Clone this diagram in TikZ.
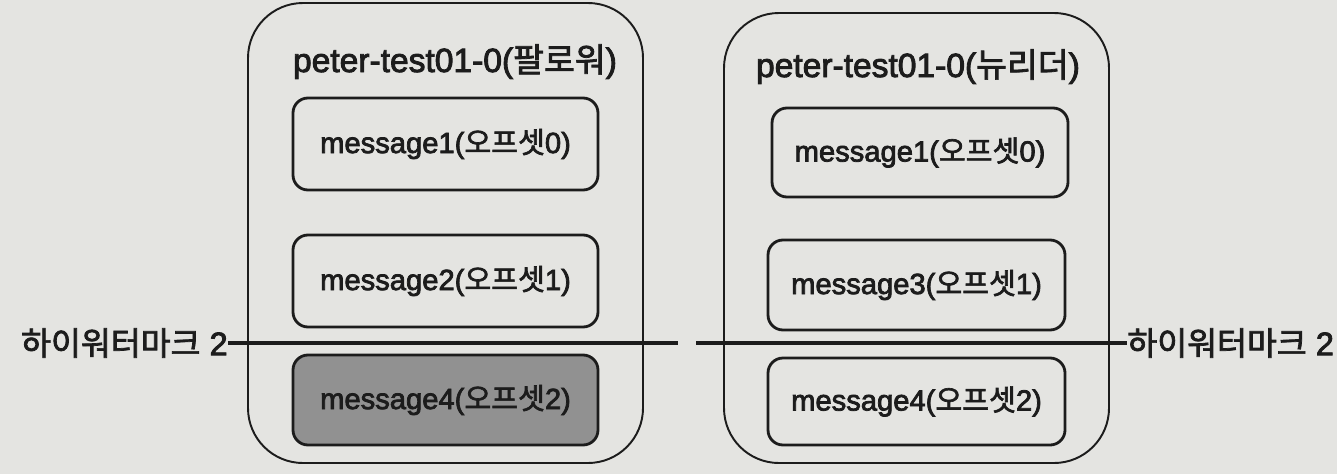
\documentclass[tikz,border=0pt]{standalone}
\usepackage{fontspec}
\setmainfont{Liberation Sans}[FakeBold=2.6]
\newfontfamily\korfont{Noto Sans CJK KR}[FakeBold=2.2]
\newcommand\kor[1]{{\korfont #1}}
\definecolor{paper}{RGB}{228,228,225}
\definecolor{ink}{RGB}{28,28,28}
\definecolor{shade}{RGB}{145,145,145}
\begin{document}
\begin{tikzpicture}[x=0.02cm,y=-0.02cm,
  container/.style={draw=ink, line width=1.1pt, rounded corners=1.1cm, inner sep=0pt},
  msgbox/.style={draw=ink, line width=1.6pt, rounded corners=0.3cm, inner sep=0pt,
    font=\fontsize{16.6}{19}\selectfont, text=ink},
  title/.style={anchor=base, inner sep=0pt, font=\fontsize{19.1}{22}\selectfont, text=ink},
  hwlabel/.style={inner sep=0pt, font=\fontsize{18.5}{21}\selectfont, text=ink},
  hwline/.style={draw=ink, line width=2pt}]
\fill[paper] (0,0) rectangle (1337,474);
\useasboundingbox (0,0) rectangle (1337,474);
% containers
\node[container, minimum width=395*0.02cm, minimum height=460*0.02cm] (follower) at (445.5,233) {};
\node[container, minimum width=385*0.02cm, minimum height=450*0.02cm] (leader) at (916.5,238) {};
% titles
\node[title] (ftitle) at (455,72) {peter-test01-0(\kor{팔로워})};
\node[title] (ltitle) at (918,77) {peter-test01-0(\kor{뉴리더})};
% follower messages
\node[msgbox, minimum width=305*0.02cm, minimum height=92*0.02cm] (f1) at (445.5,144) {message1(\kor{오프셋}0)};
\node[msgbox, minimum width=305*0.02cm, minimum height=92*0.02cm] (f2) at (445.5,281) {message2(\kor{오프셋}1)};
\node[msgbox, fill=shade, minimum width=305*0.02cm, minimum height=90*0.02cm] (f3) at (445.5,400) {message4(\kor{오프셋}2)};
% leader messages
\node[msgbox, minimum width=296*0.02cm, minimum height=89*0.02cm] (l1) at (920,152.5) {message1(\kor{오프셋}0)};
\node[msgbox, minimum width=297*0.02cm, minimum height=90*0.02cm] (l2) at (916.5,285) {message3(\kor{오프셋}1)};
\node[msgbox, minimum width=297*0.02cm, minimum height=87*0.02cm] (l3) at (916.5,401.5) {message4(\kor{오프셋}2)};
% high watermark
\node[hwlabel, anchor=east] (hwL) at (228,343) {\kor{하이워터마크} 2};
\node[hwlabel, anchor=west] (hwR) at (1127,343) {\kor{하이워터마크} 2};
\coordinate (gapL) at (678,343);
\coordinate (gapR) at (696,343);
\draw[hwline] (hwL.east) -- (gapL);
\draw[hwline] (gapR) -- (hwR.west);
\end{tikzpicture}
\end{document}
